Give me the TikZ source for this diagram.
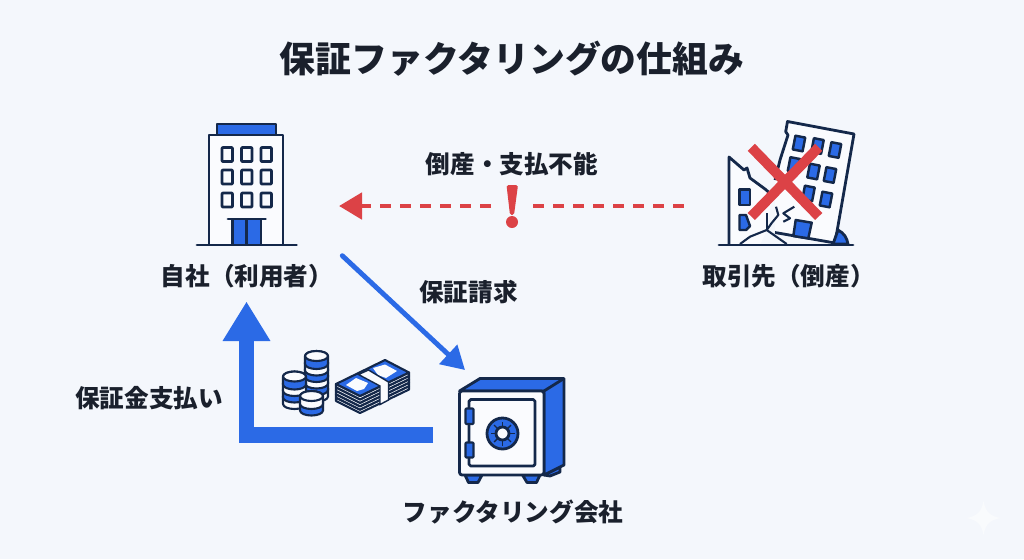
\documentclass[tikz,border=0pt]{standalone}
\usepackage{fontspec}
\setmainfont{Noto Sans CJK JP}
\usetikzlibrary{positioning,arrows.meta}
\definecolor{paper}{HTML}{F4F7FC}
\definecolor{face}{HTML}{FAFBFE}
\definecolor{navy}{HTML}{14284A}
\definecolor{ink}{HTML}{1A202C}
\definecolor{accent}{HTML}{2B6AE6}
\definecolor{alert}{HTML}{DC4246}

% one stack of coins: x, y of the top centre, number of layers, colour parity
\newcommand{\coinstack}[4]{
  \foreach \k in {#3,...,1} {
    \pgfmathsetmacro{\yy}{#2+(\k-1)*6.5}
    \ifodd\numexpr\k+#4\relax\def\cc{accent}\else\def\cc{face}\fi
    \path[thin icon,fill=\cc] (#1-11.5,\yy) -- ++(0,8) arc[start angle=180,end angle=360,x radius=11.5,y radius=-5]
      -- ++(0,-8) arc[start angle=0,end angle=180,x radius=11.5,y radius=-5] -- cycle;
  }
  \path[thin icon,fill=face] (#1,#2) ellipse[x radius=11.5,y radius=5];
}

\begin{document}
\begin{tikzpicture}[
  x=0.02cm,
  y=-0.02cm,
  icon/.style = {
    draw = navy,
    line width = 1.6pt,
    line join = round,
  },
  thin icon/.style = {
    icon,
    line width = 1.2pt,
  },
  win/.style = {
    icon,
    fill = face,
    rounded corners = 0.5pt,
  },
  blue win/.style = {
    icon,
    fill = accent,
    line width = 1.4pt,
  },
  title/.style = {
    font = \fontsize{20.4}{24}\selectfont\bfseries,
    text = ink,
  },
  caption/.style = {
    font = \fontsize{14}{17}\selectfont\bfseries,
    text = ink,
  },
  dash line/.style = {
    draw = alert,
    line width = 2.8pt,
    dash pattern = on 6.3pt off 5.1pt,
  },
]

  \fill[paper] (0,0) rectangle (1024,559);
  \useasboundingbox (0,0) rectangle (1024,559);

  \node[title] (head) at (512,59) {保証ファクタリングの仕組み};
  \node[caption] (usr) at (247,276) {自社（利用者）};
  \node[caption] (debtor) at (788.5,276) {取引先（倒産）};
  \node[caption] (insolv) at (512,164) {倒産・支払不能};
  \node[caption] (claim) at (468.5,292) {保証請求};
  \node[caption] (paid) at (149,398) {保証金支払い};
  \node[caption] (factor) at (513,512) {ファクタリング会社};

  % company building
  \path[icon,fill=accent] (217,124) rectangle (276,135);
  \path[icon,fill=face] (209,245) -- (209,135) -- (283,135) -- (283,245);
  \foreach \xx in {222,241.5,261}
    \foreach \yy in {147.5,170,193}
      \path[win] (\xx,\yy) rectangle ++(10.5,14);
  \path[icon,fill=accent] (232.5,219) rectangle (261,245);
  \path[icon] (246.7,219) -- (246.7,245);
  \path[icon,line cap=round] (228,219) -- (265.5,219);
  \path[icon,line cap=round] (197,245) -- (296.5,245);

  % broken building
  \fill[face] (787.5,121.5) -- (854,134) -- (835,243) -- (775,232.5) -- (775,180) -- (780,160) -- (788,135) -- (785.7,131.7) -- cycle;
  \path[icon] (775,180) -- (780,160) -- (788,135) -- (785.7,131.7) -- (787.5,121.5) -- (854,134) -- (835,243) -- (775,232.5);
  \foreach \xx/\yy in {799/143.5,817.5/146,835/150,794/165,813.5/171.5,830/175,808.5/193.5,826/199.5}
    \path[blue win,rotate around={-11:(\xx,\yy)}] (\xx-5,\yy-7) rectangle (\xx+5,\yy+7);
  \path[blue win] (795.7,220) -- (811.7,222.7) -- (808.3,238.3) -- (793.3,236) -- cycle;
  \path[icon,fill=accent] (833,244) -- (838,230) .. controls (844,233) and (847,238) .. (848,244) -- cycle;
  \fill[face] (729,245) -- (729,157) -- (744,170) -- (750,178) -- (765,189) -- (772,195) -- (767,230) -- (760,245) -- cycle;
  \path[icon] (729,245) -- (729,157) -- (744,170) -- (747,168) -- (750,178) -- (765,189) -- (772,195);
  \path[blue win] (739.5,189.5) rectangle (750,205);
  \path[blue win] (739.5,215) -- (746,215) -- (750,226) -- (746,230) -- (739.5,230) -- cycle;
  \path[thin icon] (740,244) -- (750,236.7) -- (766.7,230) -- (786.7,244);
  \path[thin icon] (766.7,230) -- (766.7,213);
  \path[thin icon] (766.7,230) -- (771.7,223) -- (778.3,215) -- (776,206.7);
  \path[thin icon] (794.3,206.7) -- (783.3,213.3) -- (790,218.3) -- (783.3,221.7);
  \path[icon,line cap=round] (719,245) -- (853,245);
  \draw[alert,line width=5.7pt] (751.3,147.3) -- (818.7,216.5) (818.7,147.3) -- (751.3,216.5);

  % coins and notes
  \coinstack{316.5}{356}{6}{0}
  \coinstack{294.5}{376.5}{4}{0}
  \coinstack{311.5}{396}{2}{1}
  \foreach \k in {5,...,1} {
    \path[thin icon,fill=face] (336,{384+\k*3.4}) -- (360,{396+\k*3.4}) -- (409,{372.5+\k*3.4}) -- (409,{372.5+(\k-1)*3.4}) -- (360,{396+(\k-1)*3.4}) -- (336,{384+(\k-1)*3.4}) -- cycle;
  }
  \path[thin icon,fill=accent] (336,384) -- (385,360) -- (409,372.5) -- (360,396) -- cycle;
  \fill[face] (346,385) -- (356,378) -- (368,383) -- (364,389) -- (357,391) -- cycle;
  \fill[face] (373,368) -- (385,364.5) -- (397,371) -- (386,378) -- (378,375) -- cycle;
  \path[line width=0.8pt,draw=navy,fill=face] (358.5,374.5) -- (368.5,370) -- (388.5,382) -- (388.5,400) -- (380,404.5) -- (380,386) -- cycle;

  % safe
  \path[icon,fill=accent] (465,475) -- (482,475) -- (478,482.5) -- (468.5,482.5) -- cycle;
  \path[icon,fill=accent] (522.5,475) -- (540,475) -- (536.5,482.5) -- (527,482.5) -- cycle;
  \path[icon,fill=accent] (544,475) -- (560,467) -- (560,472) -- (550,476) -- cycle;
  \path[icon,fill=accent] (459.5,391) -- (480,378.5) -- (564,378.5) -- (564,465) -- (544,475) -- (544,391) -- cycle;
  \path[icon] (544,391) -- (564,378.5);
  \path[icon,fill=face,rounded corners=1.5pt] (459.5,391) rectangle (544,475);
  \path[icon,rounded corners=1pt] (469,399.5) rectangle (535,466);
  \path[thin icon,fill=accent,rounded corners=0.5pt] (465.5,408.5) rectangle (473.5,424);
  \path[thin icon,fill=accent,rounded corners=0.5pt] (465.5,442.5) rectangle (473.5,457.5);
  \path[icon,fill=accent] (502.5,433.5) circle[radius=15.5];
  \foreach \a in {0,45,...,315}
    \path[thin icon,line width=0.8pt] (502.5,433.5) -- ++(\a:12);
  \path[icon,fill=face] (502.5,433.5) circle[radius=6.5];

  % connectors
  \coordinate (redstart) at (685,206);
  \coordinate (redgap) at (533,206);
  \coordinate (redback) at (491,206);
  \coordinate (redtip) at (339,206);
  \coordinate (claimfrom) at (342.3,255.7);
  \coordinate (claimto) at (465,370);
  \coordinate (payfrom) at (433,435);
  \coordinate (paybend) at (246.5,435);
  \coordinate (paytip) at (246.5,301.5);

  \draw[dash line] (redgap) -- (redstart);
  \draw[dash line,-{Triangle[length=0.46cm,width=0.52cm,color=alert]}] (redback) -- (redtip);
  \fill[alert,rounded corners=1pt] (506.5,185) -- (518,185) -- (514,215) -- (510,215) -- cycle;
  \fill[alert] (512,222) circle[radius=6];

  \draw[accent,line width=2.8pt,line cap=round,-{Triangle[length=0.46cm,width=0.51cm]}] (claimfrom) -- (claimto);
  \draw[accent,line width=8.8pt,-{Triangle[length=0.79cm,width=0.9cm]}] (payfrom) -- (paybend) -- (paytip);

  % watermark
  \fill[white!45!paper] (983.5,501) .. controls (985.5,512) and (990,516) .. (1000.5,518)
    .. controls (990,520) and (985.5,524) .. (983.5,535)
    .. controls (981.5,524) and (977,520) .. (966.5,518)
    .. controls (977,516) and (981.5,512) .. (983.5,501) -- cycle;

\end{tikzpicture}
\end{document}
